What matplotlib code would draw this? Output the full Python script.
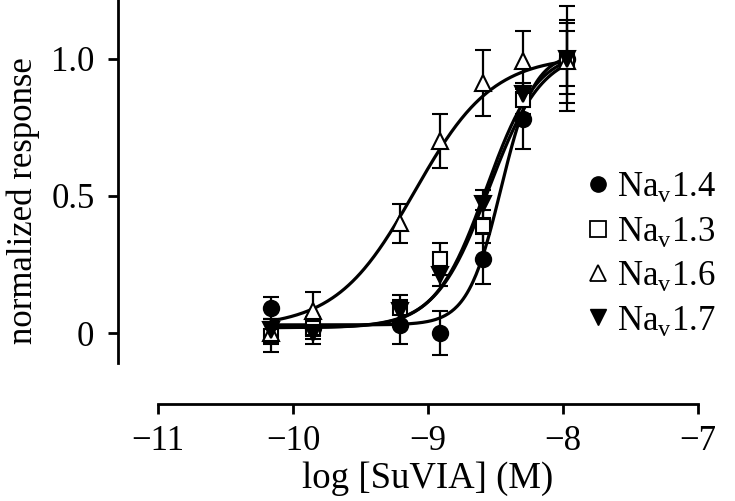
import numpy as np
import matplotlib
matplotlib.use("Agg")
import matplotlib.pyplot as plt
from matplotlib.lines import Line2D

plt.rcParams['font.family'] = ['Liberation Serif', 'DejaVu Serif']
plt.rcParams['mathtext.fontset'] = 'custom'
plt.rcParams['mathtext.rm'] = 'Liberation Serif'

# Data
log_conc = [-10.16, -9.85, -9.21, -8.91, -8.59, -8.30, -7.97]

nav14 = [0.09, 0.02, 0.03, 0.00, 0.27, 0.78, 1.00]
err14 = [0.04, 0.03, 0.07, 0.08, 0.09, 0.11, 0.19]

nav13 = [-0.01, 0.02, 0.09, 0.27, 0.39, 0.85, 1.00]
err13 = [0.06, 0.04, 0.05, 0.06, 0.06, 0.05, 0.13]

nav16 = [0.00, 0.08, 0.40, 0.70, 0.91, 0.99, 0.99]
err16 = [0.04, 0.07, 0.07, 0.10, 0.12, 0.11, 0.15]

nav17 = [0.01, 0.00, 0.08, 0.21, 0.47, 0.87, 1.00]
err17 = [0.04, 0.04, 0.04, 0.04, 0.05, 0.04, 0.10]

# Hill fit parameters (bottom, top, logEC50, slope)
fit14 = (0.03, 1.02, -8.46, 3.5)
fit13 = (0.02, 1.03, -8.55, 2.2)
fit16 = (0.02, 1.01, -9.10, 1.5)
fit17 = (0.02, 1.03, -8.57, 2.3)

labels = [r'Na$_{\mathrm{v}}$1.4', r'Na$_{\mathrm{v}}$1.3',
          r'Na$_{\mathrm{v}}$1.6', r'Na$_{\mathrm{v}}$1.7']


def hill(x, p):
    b, t, ec, n = p
    return b + (t - b) / (1 + 10 ** (n * (ec - x)))


fig = plt.figure(figsize=(7.35, 5.01), dpi=100)
ax = fig.add_axes([118 / 735, 1 - 404 / 501, (698 - 118) / 735, 404 / 501])

xs = np.linspace(min(log_conc), max(log_conc), 300)

series = [
    (nav14, err14, fit14, 'o', 'black', 11),
    (nav13, err13, fit13, 's', 'white', 10),
    (nav16, err16, fit16, '^', 'white', 11),
    (nav17, err17, fit17, 'v', 'black', 11),
]

for vals, errs, fit, mk, fc, ms in series:
    ax.plot(xs, hill(xs, fit), color='black', lw=2.3, zorder=2)
    ax.errorbar(log_conc, vals, yerr=errs, fmt=mk, color='black', mfc=fc,
                mec='black', mew=1.5, ms=ms, ecolor='black', elinewidth=1.6,
                capsize=6, capthick=1.6, zorder=3)

ax.set_xlim(-11 - 40 / 135, -7)
ax.set_ylim(-(404 - 333) / 275, 1 + 58.7 / 275)

for s in ['top', 'right']:
    ax.spines[s].set_visible(False)
ax.spines['left'].set_bounds(-(363 - 333) / 275, 1 + 58.7 / 275)
ax.spines['bottom'].set_bounds(-11, -7)
for s in ['left', 'bottom']:
    ax.spines[s].set_linewidth(2)

ax.set_xticks([-11, -10, -9, -8, -7])
ax.set_yticks([0, 0.5, 1.0])
ax.set_yticklabels(['0', '0.5', '1.0'])
ax.tick_params(direction='out', length=7, width=2, labelsize=25)
ax.tick_params(axis='y', pad=10)
ax.tick_params(axis='x', pad=8)

ax.set_xlabel('log [SuVIA] (M)', fontsize=26.5)
ax.xaxis.set_label_coords((428 - 118) / 580, -57 / 404)
ax.set_ylabel('normalized response', fontsize=25)
ax.yaxis.set_label_coords(-78 / 580, (404 - 201) / 404)

handles = [
    Line2D([], [], ls='none', marker='o', color='black', mfc='black', ms=11),
    Line2D([], [], ls='none', marker='s', color='black', mfc='white', mew=1.3, ms=11),
    Line2D([], [], ls='none', marker='^', color='black', mfc='white', mew=1.3, ms=11),
    Line2D([], [], ls='none', marker='v', color='black', mfc='black', ms=11),
]
fig.legend(handles, labels, loc='center left', bbox_to_anchor=(563 / 735, 1 - 254 / 501),
           frameon=False, fontsize=25, handletextpad=0.05, labelspacing=0.3,
           handlelength=1.0, borderpad=0)

fig.savefig('out.png', dpi=100)
